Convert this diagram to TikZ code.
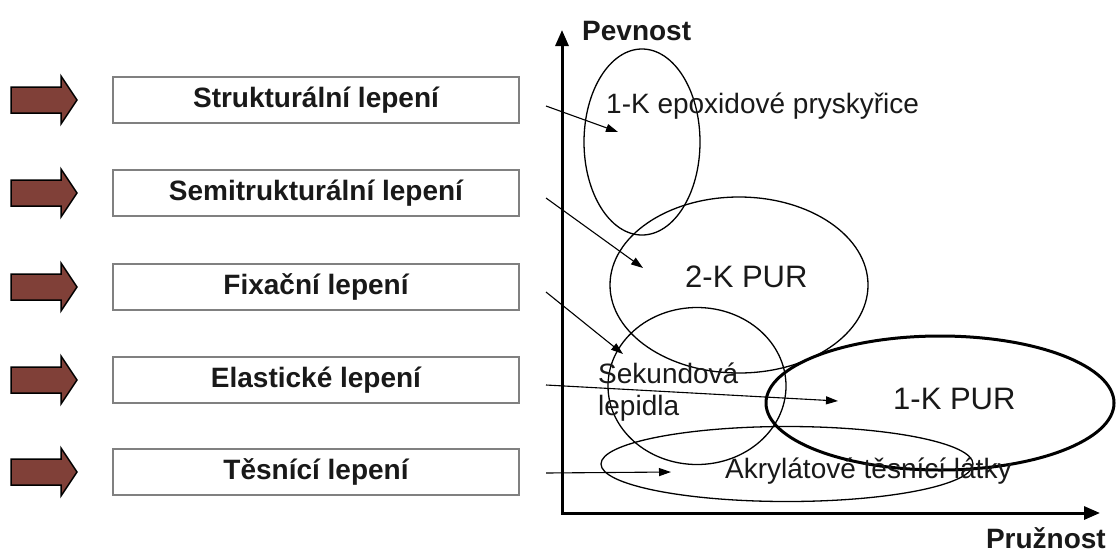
\documentclass[tikz,border=0pt]{standalone}
\usepackage{fontspec}
\setmainfont{Liberation Sans}
\usetikzlibrary{arrows.meta,shapes.geometric}
\definecolor{arrowbrown}{RGB}{128,64,56}
\definecolor{boxgray}{RGB}{128,128,128}
\definecolor{inkblack}{RGB}{25,25,25}
\tikzset{
  lbox/.style={draw=boxgray, line width=2pt, minimum width=406pt, minimum height=46pt,
    inner sep=0pt, text=inkblack, font=\bfseries\fontsize{28}{33}\selectfont},
  blockarrow/.style={draw=black, line width=1.5pt, fill=arrowbrown, line join=miter},
  ell/.style={draw, ellipse, line width=1.3pt, inner sep=0pt},
  lbl/.style={anchor=base west, inner sep=0pt, text=inkblack, font=\fontsize{28}{33}\selectfont},
  biglbl/.style={lbl, font=\fontsize{31}{36}\selectfont},
  axlbl/.style={inner sep=0pt, text=inkblack, font=\bfseries\fontsize{28}{33}\selectfont},
  conn/.style={line width=1.1pt, -{Triangle[length=12pt,width=8pt]}},
  axis/.style={line width=3pt, {Triangle[length=16pt,width=13pt]}-{Triangle[length=16pt,width=13pt]}}
}
\begin{document}
\begin{tikzpicture}[x=1pt,y=-1pt]
\useasboundingbox (0,0) rectangle (1118,552);

% block arrows
\foreach \y in {100,193,287,380,472}
  \draw [blockarrow] (11,\y-13) -- (61,\y-13) -- (61,\y-24) -- (77,\y)
    -- (61,\y+24) -- (61,\y+13) -- (11,\y+13) -- cycle;

% boxes
\node [lbox] (b1) at (316,100) {Strukturální lepení};
\node [lbox] (b2) at (316,193) {Semitrukturální lepení};
\node [lbox] (b3) at (316,287) {Fixační lepení};
\node [lbox] (b4) at (316,380) {Elastické lepení};
\node [lbox] (b5) at (316,472) {Těsnící lepení};

% axes
\coordinate (origin) at (562,513);
\coordinate (ytop) at (562,30);
\coordinate (xend) at (1100,513);
\draw [axis] (ytop) -- (origin) -- (xend);
\node [axlbl, anchor=base west] (pevnost) at (582,40) {Pevnost};
\node [axlbl, anchor=base east] (pruznost) at (1106,548) {Pružnost};

% regions
\node [ell, minimum width=116pt, minimum height=186pt] (epoxy) at (642,142) {};
\node [ell, minimum width=258pt, minimum height=176pt] (pur2) at (739,285) {};
\node [ell, minimum width=178pt, minimum height=157pt] (sek) at (697,386) {};
\node [ell, line width=3pt, minimum width=348pt, minimum height=134pt] (pur1) at (940,403) {};
\node [ell, minimum width=372pt, minimum height=75pt] (akryl) at (787,464) {};

\node [lbl] (tepoxy) at (606,113) {1-K epoxidové pryskyřice};
\node [biglbl] (tpur2) at (685,287) {2-K PUR};
\node [lbl] (tsek1) at (598,383) {Sekundová};
\node [lbl] (tsek2) at (598,415) {lepidla};
\node [biglbl] (tpur1) at (893,409) {1-K PUR};
\node [lbl] (takryl) at (725,478) {Akrylátové těsnící látky};

% connectors
\coordinate (t1) at (618,132);
\coordinate (t2) at (643,268);
\coordinate (t3) at (623,354);
\coordinate (t4) at (838,401);
\coordinate (t5) at (671,472);
\draw [conn] ([shift={(26,6)}]b1.east) -- (t1);
\draw [conn] ([shift={(26,5)}]b2.east) -- (t2);
\draw [conn] ([shift={(26,5)}]b3.east) -- (t3);
\draw [conn] ([shift={(26,5)}]b4.east) -- (t4);
\draw [conn] ([shift={(26,1)}]b5.east) -- (t5);

\end{tikzpicture}
\end{document}
